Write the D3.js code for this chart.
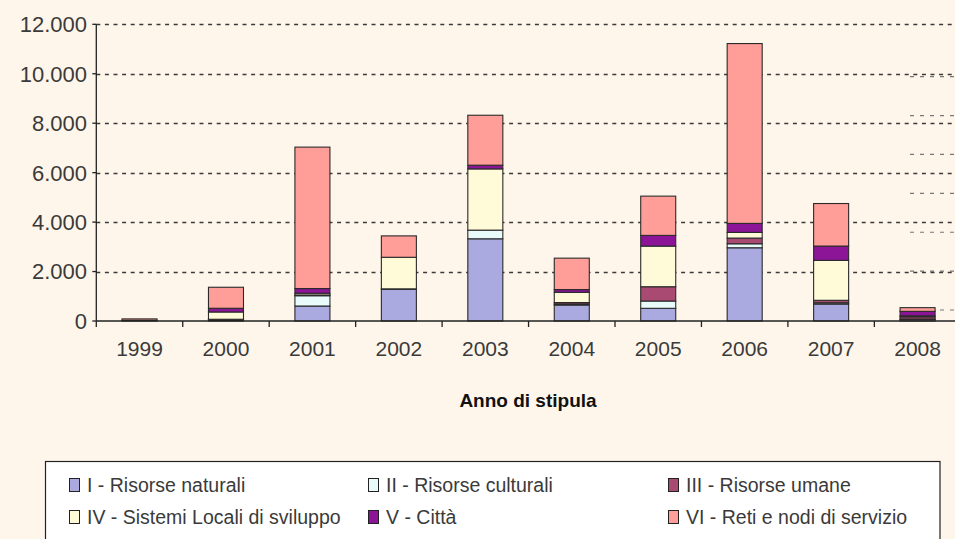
<!DOCTYPE html>
<html lang="it">
<head>
<meta charset="UTF-8">
<title>Anno di stipula</title>
<style>
  body { margin: 0; background: #fff6eb; }
  svg { display: block; font-family: 'Liberation Sans', Arial, sans-serif; }
  .tick-label { fill: #3a3a3a; font-size: 22px; }
  .year-label { fill: #3a3a3a; font-size: 21px; }
  .legend-text { fill: #3a3a3a; font-size: 19.5px; }
</style>
</head>
<body>
<svg id="chart" width="955" height="539"></svg>
<script src="https://cdn.jsdelivr.net/npm/d3@7"></script>
<script>
// data (values per year, stacked)
const years = ["1999","2000","2001","2002","2003","2004","2005","2006","2007","2008"];
const seriesNames = [
  "I - Risorse naturali",
  "II - Risorse culturali",
  "III - Risorse umane",
  "IV - Sistemi Locali di sviluppo",
  "V - Città",
  "VI - Reti e nodi di servizio"
];
const seriesColors = ["#aaaae1", "#e8fafa", "#a84a72", "#fffad8", "#8b1497", "#ff9e98"];

const risorseNaturali  = [0,   40,  606, 1280, 3325,  646,  513, 2962,  687,  60];
const risorseCulturali = [0,   10,  417,   20,  350,   40,  295,  162,   50,  20];
const risorseUmane     = [25,  20,   30,    0,    0,   60,  578,  230,  100,  90];
const sistemiLocali    = [0,  295,   70, 1277, 2477,  416, 1644,  230, 1616,  40];
const citta            = [0,  150,  190,    0,  150,  110,  432,  364,  578, 180];
const retiNodi         = [60, 850, 5720,  865, 2020, 1270, 1588, 7273, 1720, 150];

const yTicks = [0, 2000, 4000, 6000, 8000, 10000, 12000];
// faint dashed lines at the right edge (another chart showing through)
const ghostTicks = [1, 2, 3, 4, 5, 6, 7];

const svg = d3.select("#chart");
const W = 955, H = 539;
const plotLeft = 96.3, plotBottom = 321, plotTop = 24.3;

const allSeries = [risorseNaturali, risorseCulturali, risorseUmane, sistemiLocali, citta, retiNodi];
const rows = years.map((yr, i) => {
  const r = { year: yr };
  seriesNames.forEach((n, k) => r[n] = allSeries[k][i]);
  return r;
});

const x = d3.scaleBand()
  .domain(years)
  .range([plotLeft, plotLeft + 86.45 * years.length])
  .paddingInner(0.595)
  .paddingOuter(0.2975);

const y = d3.scaleLinear().domain([0, 12000]).range([plotBottom, plotTop]);
const ghostY = d3.scaleLinear().domain([0, 7]).range([348.9, 76.7]);

svg.append("rect").attr("width", W).attr("height", H).attr("fill", "#fff6eb");

// ghost lines
svg.append("g").selectAll("line")
  .data(ghostTicks)
  .join("line")
  .attr("x1", 910).attr("x2", W)
  .attr("y1", d => ghostY(d)).attr("y2", d => ghostY(d))
  .attr("stroke", "#777").attr("stroke-width", 1.2)
  .attr("stroke-dasharray", "4,6");

// gridlines
svg.append("g").selectAll("line")
  .data(yTicks.filter(d => d > 0))
  .join("line")
  .attr("x1", plotLeft).attr("x2", W)
  .attr("y1", d => Math.round(y(d)) + 0.5).attr("y2", d => Math.round(y(d)) + 0.5)
  .attr("stroke", "#3a3a3a").attr("stroke-width", 1.3)
  .attr("stroke-dasharray", "4,4.6");

// stacked bars
const stack = d3.stack().keys(seriesNames);
const layers = stack(rows);

svg.append("g").selectAll("g")
  .data(layers)
  .join("g")
  .attr("fill", (d, i) => seriesColors[i])
  .selectAll("rect")
  .data(d => d.filter(p => p[1] - p[0] > 0))
  .join("rect")
  .attr("x", d => x(d.data.year))
  .attr("width", x.bandwidth())
  .attr("y", d => y(d[1]))
  .attr("height", d => y(d[0]) - y(d[1]))
  .attr("stroke", "#2a2a2a")
  .attr("stroke-width", 1.1);

// y axis
const yAxis = svg.append("g");
yAxis.append("line")
  .attr("x1", plotLeft).attr("x2", plotLeft)
  .attr("y1", plotTop).attr("y2", plotBottom + 6)
  .attr("stroke", "#222").attr("stroke-width", 1.3);
yAxis.selectAll("line.tk")
  .data(yTicks)
  .join("line").attr("class", "tk")
  .attr("x1", plotLeft - 4).attr("x2", plotLeft)
  .attr("y1", d => y(d)).attr("y2", d => y(d))
  .attr("stroke", "#222").attr("stroke-width", 1.3);
yAxis.selectAll("text")
  .data(yTicks)
  .join("text")
  .attr("class", "tick-label")
  .attr("x", 87)
  .attr("y", d => y(d))
  .attr("dy", "0.36em")
  .attr("text-anchor", "end")
  .text(d => d3.format(",")(d).replace(/,/g, "."));

// x axis
const xAxis = svg.append("g");
xAxis.append("line")
  .attr("x1", plotLeft).attr("x2", W)
  .attr("y1", plotBottom).attr("y2", plotBottom)
  .attr("stroke", "#222").attr("stroke-width", 1.3);
xAxis.selectAll("line.tk")
  .data(years.slice(1))
  .join("line").attr("class", "tk")
  .attr("x1", d => x(d) - x.step() * x.paddingInner() / 2)
  .attr("x2", d => x(d) - x.step() * x.paddingInner() / 2)
  .attr("y1", plotBottom).attr("y2", plotBottom + 6)
  .attr("stroke", "#222").attr("stroke-width", 1.3);
xAxis.selectAll("text")
  .data(years)
  .join("text")
  .attr("class", "year-label")
  .attr("x", d => x(d) + x.bandwidth() / 2)
  .attr("y", 356)
  .attr("text-anchor", "middle")
  .text(d => d);

svg.append("text")
  .attr("x", 528).attr("y", 407)
  .attr("text-anchor", "middle")
  .attr("font-weight", "bold")
  .attr("font-size", 19)
  .attr("fill", "#111")
  .text("Anno di stipula");

// legend
const lg = svg.append("g");
lg.append("rect")
  .attr("x", 45.5).attr("y", 461.5)
  .attr("width", 894.5).attr("height", 100)
  .attr("fill", "#ffffff").attr("stroke", "#222").attr("stroke-width", 1.2);

const colX = [69, 368, 668];
const rowY = [485, 517];
const items = lg.selectAll("g.item")
  .data(seriesNames)
  .join("g").attr("class", "item")
  .attr("transform", (d, i) => `translate(${colX[i % 3]},${rowY[Math.floor(i / 3)]})`);
items.append("rect")
  .attr("x", 0.5).attr("y", -6.5)
  .attr("width", 10).attr("height", 13)
  .attr("fill", (d, i) => seriesColors[i])
  .attr("stroke", "#222").attr("stroke-width", 1);
items.append("text")
  .attr("class", "legend-text")
  .attr("x", 18).attr("y", 0)
  .attr("dy", "0.36em")
  .text(d => d);
</script>
</body>
</html>
